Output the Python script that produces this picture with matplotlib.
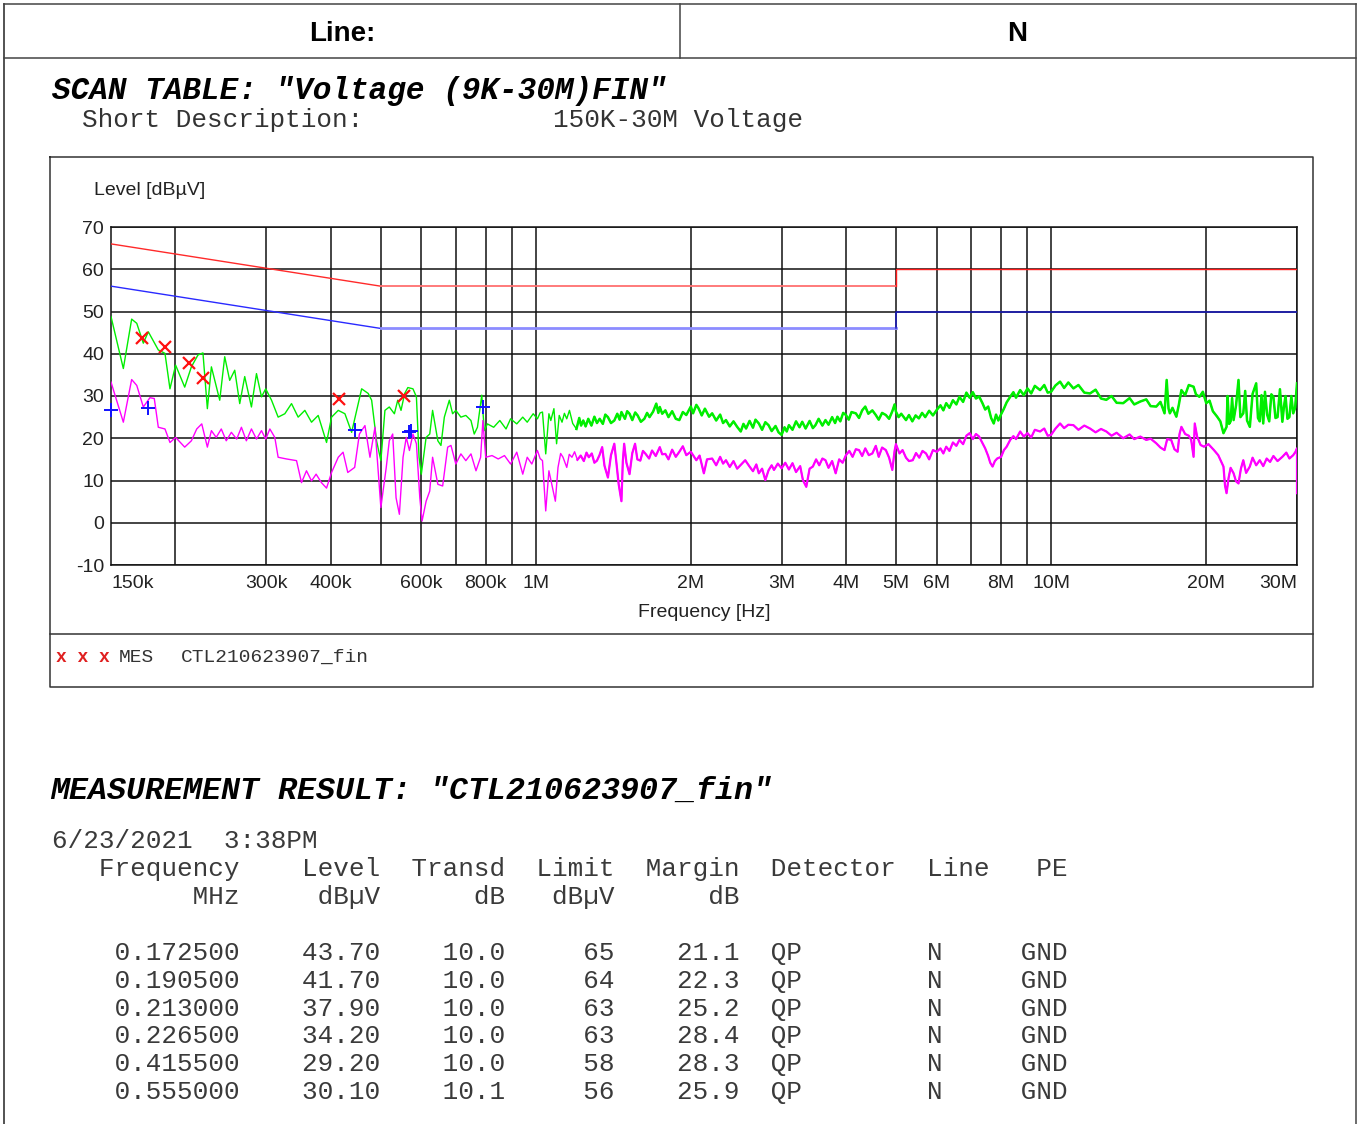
import matplotlib.pyplot as plt
from matplotlib.ticker import NullLocator

plt.rcParams['font.family'] = ['Liberation Sans', 'DejaVu Sans']
plt.rcParams['axes.unicode_minus'] = False
MONO = ['Liberation Mono', 'DejaVu Sans Mono']

# ── scan traces (MHz, dBµV) ──────────────────────────────────────────────────
green_f = [0.150, 0.1585, 0.1645, 0.1683, 0.1733, 0.1772, 0.1853, 0.1909, 0.1952, 0.2002,
           0.2085, 0.2148, 0.2212, 0.2262, 0.2307, 0.2349, 0.2438, 0.2493, 0.2549, 0.2607,
           0.2666, 0.2726, 0.2809, 0.2873, 0.2938, 0.2994, 0.3073, 0.3165, 0.3261, 0.3360,
           0.3461, 0.3566, 0.3674, 0.3785, 0.3929, 0.4018, 0.4140, 0.4265, 0.4395, 0.4596,
           0.4733, 0.4806, 0.4914, 0.5008, 0.510, 0.520, 0.532, 0.540, 0.548, 0.557,
           0.565, 0.578, 0.587, 0.594, 0.600, 0.613, 0.623, 0.631, 0.646, 0.655,
           0.665, 0.680, 0.690, 0.700, 0.716, 0.732, 0.749, 0.760, 0.771, 0.786,
           0.795, 0.806, 0.829, 0.852, 0.876, 0.894, 0.919, 0.944, 0.963, 0.989,
           1.008, 1.02, 1.031, 1.046, 1.061, 1.07, 1.085, 1.098, 1.111, 1.125,
           1.137, 1.149, 1.163, 1.18, 1.200, 1.215, 1.225, 1.237, 1.25, 1.265,
           1.283, 1.30, 1.315, 1.331, 1.35, 1.365, 1.381, 1.40, 1.421, 1.44,
           1.455, 1.467, 1.49, 1.505, 1.521, 1.54, 1.56, 1.577, 1.60, 1.625,
           1.645, 1.663, 1.69, 1.714, 1.73, 1.741, 1.76, 1.785, 1.81, 1.84,
           1.87, 1.90, 1.93, 1.96, 2.0, 2.02, 2.05, 2.07, 2.10, 2.13,
           2.17, 2.20, 2.24, 2.28, 2.31, 2.34, 2.38, 2.42, 2.46, 2.50,
           2.53, 2.56, 2.60, 2.64, 2.67, 2.71, 2.75, 2.79, 2.83, 2.87,
           2.92, 2.96, 3.0, 3.04, 3.07, 3.10, 3.15, 3.20, 3.25, 3.29,
           3.34, 3.40, 3.45, 3.49, 3.54, 3.60, 3.65, 3.70, 3.76, 3.81,
           3.85, 3.90, 3.95, 4.0, 4.05, 4.10, 4.18, 4.24, 4.30, 4.36,
           4.42, 4.50, 4.57, 4.63, 4.70, 4.78, 4.85, 4.92, 4.97, 5.0,
           5.06, 5.12, 5.23, 5.30, 5.38, 5.46, 5.54, 5.62, 5.70, 5.80,
           5.90, 6.0, 6.10, 6.18, 6.26, 6.35, 6.45, 6.55, 6.64, 6.75,
           6.85, 6.95, 7.05, 7.15, 7.25, 7.36, 7.45, 7.55, 7.65, 7.74,
           7.82, 7.90, 8.0, 8.10, 8.20, 8.33, 8.45, 8.55, 8.71, 8.85,
           9.0, 9.15, 9.30, 9.52, 9.70, 9.85, 10.0, 10.2, 10.41, 10.6,
           10.8, 11.05, 11.3, 11.6, 11.9, 12.2, 12.5, 12.8, 13.1, 13.4,
           13.8, 14.2, 14.5, 14.9, 15.3, 15.6, 16.0, 16.3, 16.6, 16.76,
           16.9, 17.0, 17.2, 17.5, 17.7, 17.9, 18.2, 18.5, 18.9, 19.1,
           19.4, 19.7, 20.0, 20.3, 20.6, 21.0, 21.3, 21.6, 21.9, 22.0,
           22.15, 22.3, 22.45, 22.6, 22.85, 23.1, 23.3, 23.6, 23.8, 24.0,
           24.3, 24.6, 25.0, 25.2, 25.4, 25.6, 25.8, 26.0, 26.25, 26.5,
           26.75, 27.0, 27.25, 27.5, 27.8, 28.1, 28.3, 28.5, 28.75, 29.0,
           29.25, 29.5, 29.75, 30.0]
green_lv = [48.8, 36.5, 48.2, 47.2, 42.5, 45.2, 40.9, 40.1, 31.7, 37.3,
            32.1, 36.9, 39.7, 40.2, 27.0, 36.9, 29.0, 39.3, 33.7, 36.1,
            28.2, 34.6, 27.4, 35.3, 29.8, 31.7, 29.0, 25.0, 25.8, 28.2,
            25.0, 26.6, 23.8, 25.4, 19.0, 25.0, 26.6, 25.8, 21.4, 31.7,
            30.6, 29.0, 19.3, 14.7, 26.6, 27.4, 25.8, 29.0, 26.6, 30.6,
            32.0, 31.7, 29.8, 15.5, 11.5, 20.2, 21.0, 26.6, 19.4, 18.3,
            25.0, 29.0, 25.8, 26.6, 25.0, 25.4, 24.2, 21.0, 22.6, 30.2,
            21.8, 23.4, 22.6, 24.2, 22.2, 24.6, 23.4, 25.0, 23.8, 25.8,
            24.6, 26.0, 26.2, 16.3, 25.8, 24.2, 27.0, 18.7, 25.4, 23.8,
            25.9, 24.6, 26.6, 23.5, 22.2, 24.8, 23.0, 24.2, 22.8, 24.6,
            23.0, 25.1, 23.6, 24.6, 23.4, 25.6, 25.0, 23.6, 24.2, 25.8,
            24.4, 26.2, 24.6, 26.4, 25.8, 24.3, 26.1, 25.4, 23.9, 24.6,
            26.0, 25.0, 26.3, 28.2, 26.0, 27.4, 25.8, 26.6, 25.0, 26.4,
            24.6, 24.3, 26.2, 25.5, 27.5, 25.9, 27.9, 27.1, 25.4, 27.0,
            25.1, 25.9, 24.2, 25.6, 23.6, 24.3, 22.8, 24.0, 22.7, 21.6,
            23.4, 22.3, 24.1, 22.5, 24.4, 23.5, 22.0, 23.8, 23.1, 21.7,
            22.9, 21.4, 20.8, 22.6, 21.6, 23.1, 22.0, 24.0, 22.6, 23.9,
            22.3, 24.1, 22.4, 23.1, 24.6, 23.0, 24.3, 23.2, 25.0, 23.6,
            25.1, 24.0, 26.0, 25.5, 24.4, 26.2, 25.9, 24.8, 26.6, 27.5,
            25.8, 26.6, 25.5, 24.4, 26.0, 25.5, 24.6, 26.4, 28.0, 26.3,
            25.0, 25.8, 24.3, 25.5, 24.0, 25.4, 24.7, 26.0, 25.0, 26.5,
            25.4, 26.7, 27.8, 26.6, 28.3, 27.2, 29.0, 28.0, 29.8, 28.6,
            30.8, 29.6, 30.9, 29.4, 29.9, 28.3, 26.8, 27.5, 24.8, 23.5,
            25.6, 24.2, 25.7, 27.0, 28.5, 29.8, 30.9, 29.6, 31.4, 30.2,
            31.8, 30.6, 32.4, 31.4, 32.6, 30.8, 31.0, 32.5, 33.4, 31.9,
            33.2, 31.8, 32.6, 30.8, 30.6, 31.5, 29.4, 29.1, 30.0, 28.4,
            28.3, 29.5, 28.0, 28.7, 29.2, 27.6, 27.5, 28.6, 25.9, 33.8,
            27.0, 25.9, 27.2, 25.1, 28.0, 31.4, 30.2, 32.6, 32.2, 30.4,
            29.8, 31.0, 28.3, 28.9, 26.4, 25.1, 24.0, 21.2, 22.7, 30.0,
            23.4, 24.0, 29.5, 24.3, 27.8, 33.8, 25.0, 25.9, 31.2, 24.2,
            22.7, 30.5, 33.0, 24.8, 24.0, 30.2, 23.5, 31.0, 25.6, 24.0,
            30.4, 29.8, 24.8, 25.0, 31.6, 23.9, 27.5, 30.0, 24.6, 25.0,
            30.0, 25.9, 27.2, 33.0]

mag_f = [0.150, 0.1585, 0.1645, 0.1683, 0.1733, 0.1785, 0.182, 0.1853, 0.1909, 0.1952,
         0.2002, 0.2085, 0.2148, 0.220, 0.225, 0.2307, 0.2349, 0.240, 0.2455, 0.251,
         0.2568, 0.263, 0.2686, 0.2746, 0.2809, 0.2873, 0.2938, 0.2994, 0.305, 0.3118,
         0.3165, 0.3285, 0.3360, 0.3436, 0.3513, 0.3592, 0.3674, 0.375, 0.384, 0.3929,
         0.4018, 0.4140, 0.423, 0.432, 0.4455, 0.455, 0.4664, 0.477, 0.4878, 0.5008,
         0.513, 0.520, 0.528, 0.536, 0.544, 0.553, 0.561, 0.569, 0.578, 0.587,
         0.596, 0.602, 0.613, 0.623, 0.631, 0.646, 0.660, 0.675, 0.685, 0.700,
         0.716, 0.732, 0.749, 0.766, 0.782, 0.790, 0.800, 0.823, 0.846, 0.870,
         0.894, 0.919, 0.944, 0.963, 0.983,
         1.008, 1.02, 1.031, 1.046, 1.061, 1.078, 1.092, 1.105, 1.118, 1.13,
         1.149, 1.162, 1.176, 1.19, 1.205, 1.223, 1.24, 1.255, 1.268, 1.285,
         1.30, 1.315, 1.33, 1.346, 1.36, 1.381, 1.40, 1.421, 1.435, 1.449,
         1.467, 1.476, 1.485, 1.50, 1.521, 1.54, 1.559, 1.575, 1.596, 1.615,
         1.634, 1.66, 1.682, 1.71, 1.741, 1.76, 1.785, 1.81, 1.84, 1.87,
         1.90, 1.93, 1.96, 2.0, 2.03, 2.05, 2.08, 2.12, 2.15, 2.20,
         2.24, 2.28, 2.31, 2.34, 2.38, 2.42, 2.46, 2.50, 2.55, 2.60,
         2.64, 2.68, 2.71, 2.75, 2.79, 2.83, 2.87, 2.90, 2.95, 3.0,
         3.05, 3.10, 3.15, 3.20, 3.26, 3.30, 3.35, 3.40, 3.45, 3.50,
         3.55, 3.60, 3.65, 3.70, 3.76, 3.82, 3.88, 3.94, 4.0, 4.06,
         4.12, 4.18, 4.24, 4.30, 4.36, 4.43, 4.50, 4.57, 4.63, 4.70,
         4.78, 4.85, 4.92, 4.97, 5.0, 5.08, 5.15, 5.23, 5.30, 5.39,
         5.47, 5.55, 5.63, 5.72, 5.80, 5.90, 6.0, 6.10, 6.18, 6.26,
         6.35, 6.45, 6.55, 6.64, 6.75, 6.85, 6.95, 7.05, 7.15, 7.25,
         7.35, 7.45, 7.55, 7.62, 7.70, 7.78, 7.86, 8.0, 8.10, 8.20,
         8.33, 8.45, 8.55, 8.71, 8.85, 9.0, 9.15, 9.30, 9.52, 9.70,
         9.85, 10.0, 10.2, 10.41, 10.6, 10.8, 11.05, 11.3, 11.6, 11.9,
         12.2, 12.5, 12.8, 13.1, 13.4, 13.8, 14.2, 14.5, 14.9, 15.3,
         15.6, 16.0, 16.3, 16.6, 16.8, 17.1, 17.35, 17.6, 17.75, 17.9,
         18.2, 18.5, 18.7, 18.9, 19.0, 19.2, 19.5, 19.8, 20.2, 20.7,
         21.1, 21.4, 21.6, 21.75, 21.9, 22.1, 22.3, 22.6, 22.85, 23.1,
         23.35, 23.6, 23.9, 24.3, 24.6, 25.0, 25.4, 25.8, 26.2, 26.6,
         27.0, 27.5, 28.1, 28.6, 29.0, 29.5, 29.8, 30.0, 30.0]
mag_lv = [33.3, 23.8, 33.9, 32.5, 27.4, 29.6, 29.4, 22.6, 22.2, 19.0,
          20.2, 17.9, 19.4, 22.2, 23.4, 17.9, 21.8, 20.2, 22.2, 19.4,
          21.4, 19.8, 22.6, 19.4, 22.2, 19.8, 21.8, 19.8, 22.2, 20.2,
          15.5, 15.1, 14.9, 14.7, 9.5, 12.3, 9.9, 11.5, 9.5, 8.2,
          11.9, 15.5, 16.7, 11.9, 13.1, 21.0, 23.0, 15.5, 22.6, 3.6,
          13.1, 19.4, 21.0, 5.9, 2.0, 15.5, 20.2, 17.1, 21.0, 18.7,
          5.9, 0.4, 5.1, 7.5, 15.5, 9.1, 8.7, 17.9, 18.3, 13.9,
          16.3, 14.7, 16.3, 12.3, 15.5, 24.2, 15.5, 15.9, 15.1, 15.9,
          13.9, 16.7, 11.5, 15.5, 13.9,
          17.1, 15.2, 14.7, 2.8, 12.3, 8.3, 5.1, 13.1, 16.4, 15.5,
          13.1, 16.2, 15.5, 16.8, 14.9, 15.9, 14.6, 16.6, 15.5, 16.4,
          14.2, 14.7, 16.0, 17.9, 13.5, 10.7, 16.0, 18.7, 14.0, 9.1,
          5.1, 14.5, 18.7, 14.2, 11.5, 16.5, 18.7, 15.0, 14.7, 17.0,
          16.3, 15.2, 17.1, 15.8, 17.9, 16.2, 16.3, 15.0, 17.3, 15.6,
          16.8, 18.1, 16.0, 16.8, 15.6, 14.8, 15.9, 11.7, 15.0, 15.2,
          13.6, 15.6, 14.0, 14.8, 13.2, 14.6, 12.8, 13.7, 14.8, 13.3,
          12.2, 13.8, 11.7, 12.8, 10.1, 12.4, 13.6, 12.5, 14.0, 12.9,
          14.2, 12.6, 14.1, 12.0, 13.4, 10.1, 8.5, 12.8, 13.3, 15.0,
          13.6, 15.2, 14.8, 13.0, 14.6, 11.7, 15.0, 14.2, 16.0, 17.0,
          15.6, 17.4, 17.2, 15.8, 17.6, 16.0, 16.4, 18.2, 15.6, 17.8,
          17.2, 15.4, 12.5, 17.0, 18.6, 16.4, 17.2, 15.4, 14.6, 14.8,
          16.5, 15.4, 17.0, 16.4, 15.0, 17.2, 16.8, 17.6, 16.4, 18.0,
          17.0, 19.0, 18.2, 19.6, 18.6, 20.6, 21.2, 19.8, 21.0, 20.4,
          19.0, 17.6, 15.8, 14.2, 13.3, 14.6, 15.2, 15.6, 17.2, 18.0,
          19.6, 20.5, 19.8, 21.6, 20.4, 21.2, 20.2, 22.0, 21.6, 22.3,
          20.6, 20.8, 22.3, 23.5, 22.4, 23.2, 23.1, 22.0, 23.0, 22.3,
          21.4, 22.2, 21.6, 20.6, 21.3, 20.0, 20.9, 19.8, 20.4, 19.6,
          19.9, 18.8, 17.8, 17.2, 19.8, 19.6, 17.4, 16.8, 21.0, 22.7,
          21.0, 20.6, 19.6, 15.6, 23.5, 20.4, 18.4, 18.0, 18.6, 17.2,
          16.0, 14.4, 13.3, 8.8, 7.0, 10.6, 13.0, 11.7, 9.8, 9.3,
          12.8, 14.8, 11.8, 13.3, 15.4, 13.6, 14.8, 13.4, 15.2, 14.4,
          15.8, 14.6, 15.6, 16.6, 15.2, 16.0, 16.8, 17.6, 7.0]

# ── limits ───────────────────────────────────────────────────────────────────
limit_f = [0.15, 0.5, 5.0, 5.0, 30.0]
qp_limit = [66, 56, 56, 60, 60]
av_limit = [56, 46, 46, 50, 50]

# ── final measurements ───────────────────────────────────────────────────────
mes_freq = [0.172500, 0.190500, 0.213000, 0.226500, 0.415500, 0.555000]
mes_level = [43.70, 41.70, 37.90, 34.20, 29.20, 30.10]
mes_transd = [10.0, 10.0, 10.0, 10.0, 10.0, 10.1]
mes_limit = [65, 64, 63, 63, 58, 56]
mes_margin = [21.1, 22.3, 25.2, 28.4, 28.3, 25.9]
mes_det = ['QP'] * 6
mes_line = ['N'] * 6
mes_pe = ['GND'] * 6

av_freq = [0.150, 0.177, 0.446, 0.568, 0.573, 0.790]
av_level = [26.7, 27.2, 22.0, 21.5, 21.7, 27.4]

xt_vals = [0.15, 0.3, 0.4, 0.6, 0.8, 1, 2, 3, 4, 5, 6, 8, 10, 20, 30]
xt_labels = ['150k', '300k', '400k', '600k', '800k', '1M', '2M', '3M', '4M',
             '5M', '6M', '8M', '10M', '20M', '30M']
grid_f = [0.2, 0.3, 0.4, 0.5, 0.6, 0.7, 0.8, 0.9, 1, 2, 3, 4, 5, 6, 7, 8, 9, 10, 20, 30]
yt_vals = list(range(-10, 71, 10))

W, H = 1360, 1124
fig = plt.figure(figsize=(W / 100, H / 100), dpi=100)

# ── page layer (pixel coordinates) ───────────────────────────────────────────
doc = fig.add_axes([0, 0, 1, 1])
doc.set_xlim(0, W)
doc.set_ylim(H, 0)
doc.axis('off')

bc = '#444444'
doc.plot([4, 1356], [4, 4], color=bc, lw=1.1)
doc.plot([4, 1356], [58, 58], color=bc, lw=1.1)
doc.plot([4, 4], [4, H], color=bc, lw=1.3)
doc.plot([1356, 1356], [4, H], color=bc, lw=1.1)
doc.plot([680, 680], [4, 58], color=bc, lw=1.1)
doc.text(342, 41, 'Line:', fontsize=20, fontweight='bold', ha='center', va='baseline')
doc.text(1017, 41, 'N', fontsize=20, fontweight='bold', ha='center', va='baseline')

doc.text(52, 99, 'SCAN TABLE: "Voltage (9K-30M)FIN"', family=MONO, fontsize=22.3,
         fontweight='bold', style='italic', va='baseline')
doc.text(82, 127, 'Short Description:', family=MONO, fontsize=18.7, color='#333333',
         va='baseline')
doc.text(553, 127, '150K-30M Voltage', family=MONO, fontsize=18.7, color='#333333',
         va='baseline')

# chart frame
doc.plot([50, 1313, 1313, 50, 50], [157, 157, 687, 687, 157], color='#333333', lw=1.1)
doc.plot([50, 1313], [634, 634], color='#333333', lw=1.1)
doc.text(94, 195, 'Level [dBµV]', fontsize=14, color='#222222', va='baseline')
doc.text(704, 617, 'Frequency [Hz]', fontsize=14, color='#222222', ha='center', va='baseline')
doc.text(56, 662, 'x x x', family=MONO, fontsize=13, color='#e02020', fontweight='bold',
         va='baseline')
doc.text(119, 662, 'MES', family=MONO, fontsize=14, color='#333333', va='baseline')
doc.text(181, 662, 'CTL210623907_fin', family=MONO, fontsize=14, color='#333333',
         va='baseline')

# measurement result table
doc.text(50, 799, 'MEASUREMENT RESULT: "CTL210623907_fin"', family=MONO, fontsize=22.8,
         fontweight='bold', style='italic', va='baseline')
tc = '#3a3a3a'
doc.text(52, 848, '6/23/2021  3:38PM', family=MONO, fontsize=18.7, color=tc, va='baseline')
head1 = (f"{'Frequency':>12}{'Level':>9}{'Transd':>8}{'Limit':>7}{'Margin':>8}  "
         f"{'Detector':<10}{'Line':<6}{'PE':>3}")
head2 = f"{'MHz':>12}{'dBµV':>9}{'dB':>8}{'dBµV':>7}{'dB':>8}"
doc.text(52, 876, head1, family=MONO, fontsize=18.7, color=tc, va='baseline')
doc.text(52, 904, head2, family=MONO, fontsize=18.7, color=tc, va='baseline')
for i in range(len(mes_freq)):
    row = (f"{mes_freq[i]:>12.6f}{mes_level[i]:>9.2f}{mes_transd[i]:>8.1f}"
           f"{mes_limit[i]:>7d}{mes_margin[i]:>8.1f}  {mes_det[i]:<10}{mes_line[i]:<6}{mes_pe[i]}")
    doc.text(52, 960 + i * 27.8, row, family=MONO, fontsize=18.7, color=tc, va='baseline')

# ── chart ────────────────────────────────────────────────────────────────────
x0, x1, y0, y1 = 111, 1297, 227, 565
ax = fig.add_axes([x0 / W, (H - y1) / H, (x1 - x0) / W, (y1 - y0) / H])
ax.set_xscale('log')
ax.set_xlim(0.15, 30)
ax.set_ylim(-10, 70)

for f in grid_f:
    ax.axvline(f, color='#111111', lw=1.1, zorder=1)
for y in yt_vals:
    ax.axhline(y, color='#111111', lw=1.1, zorder=1)
for s in ax.spines.values():
    s.set_color('#111111')
    s.set_linewidth(1.1)

# limit lines
ax.plot(limit_f[:2], qp_limit[:2], color='#ff2a2a', lw=1.0, zorder=3)
ax.plot(limit_f[1:3], qp_limit[1:3], color='#ff7070', lw=1.3, zorder=3)
ax.plot(limit_f[2:], qp_limit[2:], color='#ff1a1a', lw=1.0, zorder=3)
ax.plot(limit_f[:2], av_limit[:2], color='#2a2aff', lw=1.0, zorder=3)
ax.plot(limit_f[1:3], av_limit[1:3], color='#8c8cff', lw=2.0, zorder=3)
ax.plot(limit_f[2:], av_limit[2:], color='#1a1ac0', lw=1.1, zorder=3)

# traces: thin over the whole band, a little heavier where the scan is dense noise
ax.plot(green_f, green_lv, color='#00ee00', lw=1.0, zorder=4)
ax.plot(mag_f, mag_lv, color='#ff00ff', lw=1.0, zorder=4)
gi = [i for i, f in enumerate(green_f) if f >= 1.2]
mi = [i for i, f in enumerate(mag_f) if f >= 1.2]
ax.plot([green_f[i] for i in gi], [green_lv[i] for i in gi], color='#00ee00', lw=1.8, zorder=4)
ax.plot([mag_f[i] for i in mi], [mag_lv[i] for i in mi], color='#ff00ff', lw=1.6, zorder=4)

ax.plot(mes_freq, mes_level, 'x', color='#ff1010', ms=9, mew=1.6, zorder=6)
ax.plot(av_freq, av_level, '+', color='#1010ff', ms=10, mew=1.4, zorder=6, clip_on=False)

ax.xaxis.set_minor_locator(NullLocator())
ax.set_xticks(xt_vals)
ax.set_xticklabels(xt_labels)
ax.set_yticks(yt_vals)
ax.tick_params(length=0, labelsize=14, labelcolor='#222222')
ax.tick_params(axis='x', pad=7)
ax.tick_params(axis='y', pad=5)
lbls = ax.get_xticklabels()
lbls[0].set_ha('left')
lbls[-1].set_ha('right')

fig.savefig('out.png', dpi=100)
